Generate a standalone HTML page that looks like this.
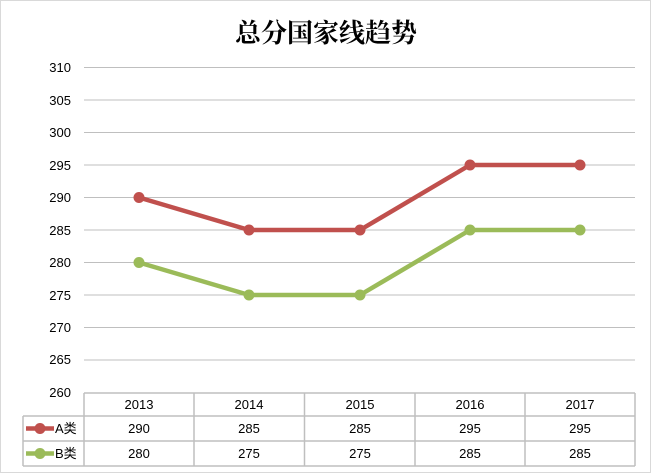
<!DOCTYPE html>
<html><head><meta charset="utf-8"><style>
html,body{margin:0;padding:0;background:#fff}
svg{display:block}
text{font-family:"Liberation Sans","Noto Sans CJK SC",sans-serif;font-size:13px;fill:#000}
</style></head><body>
<svg width="651" height="474" viewBox="0 0 651 474">
<rect x="0.5" y="0.5" width="650" height="472" fill="#fff" stroke="#d9d9d9"/>
<text x="326" y="42" text-anchor="middle" style="font-size:26px;font-weight:bold;font-family:'Noto Serif CJK SC','Noto Sans CJK SC',serif">总分国家线趋势</text>
<g stroke="#bfbfbf" stroke-width="1">
<line x1="84" x2="635" y1="67.5" y2="67.5"/><line x1="84" x2="635" y1="100" y2="100"/>
<line x1="84" x2="635" y1="132.5" y2="132.5"/><line x1="84" x2="635" y1="165" y2="165"/>
<line x1="84" x2="635" y1="197.5" y2="197.5"/><line x1="84" x2="635" y1="230" y2="230"/>
<line x1="84" x2="635" y1="262.5" y2="262.5"/><line x1="84" x2="635" y1="295" y2="295"/>
<line x1="84" x2="635" y1="327.5" y2="327.5"/><line x1="84" x2="635" y1="360" y2="360"/>
</g>
<g text-anchor="end">
<text x="71" y="72">310</text><text x="71" y="105">305</text><text x="71" y="137">300</text>
<text x="71" y="170">295</text><text x="71" y="202">290</text><text x="71" y="235">285</text>
<text x="71" y="267">280</text><text x="71" y="300">275</text><text x="71" y="332">270</text>
<text x="71" y="364">265</text><text x="71" y="397">260</text>
</g>
<g stroke="#bfbfbf" stroke-width="1.5" fill="none">
<line x1="84" x2="635" y1="393" y2="393"/>
<line x1="23" x2="635" y1="416" y2="416"/>
<line x1="23" x2="635" y1="441" y2="441"/>
<line x1="23" x2="635" y1="466" y2="466"/>
<line x1="23" x2="23" y1="416" y2="466"/>
<line x1="84" x2="84" y1="393" y2="466"/>
<line x1="194" x2="194" y1="393" y2="466"/>
<line x1="304.5" x2="304.5" y1="393" y2="466"/>
<line x1="415" x2="415" y1="393" y2="466"/>
<line x1="525" x2="525" y1="393" y2="466"/>
<line x1="635" x2="635" y1="393" y2="466"/>
</g>
<g text-anchor="middle">
<text x="139" y="409">2013</text><text x="249" y="409">2014</text><text x="360" y="409">2015</text><text x="470" y="409">2016</text><text x="580" y="409">2017</text>
<text x="139" y="433">290</text><text x="249" y="433">285</text><text x="360" y="433">285</text><text x="470" y="433">295</text><text x="580" y="433">295</text>
<text x="139" y="458">280</text><text x="249" y="458">275</text><text x="360" y="458">275</text><text x="470" y="458">285</text><text x="580" y="458">285</text>
</g>
<polyline points="139,197.5 249,230 360,230 470,165 580,165" fill="none" stroke="#c0504d" stroke-width="4.5" stroke-linejoin="round"/>
<polyline points="139,262.5 249,295 360,295 470,230 580,230" fill="none" stroke="#9bbb59" stroke-width="4.5" stroke-linejoin="round"/>
<g fill="#c0504d"><circle cx="139" cy="197.5" r="5.5"/><circle cx="249" cy="230" r="5.5"/><circle cx="360" cy="230" r="5.5"/><circle cx="470" cy="165" r="5.5"/><circle cx="580" cy="165" r="5.5"/></g>
<g fill="#9bbb59"><circle cx="139" cy="262.5" r="5.5"/><circle cx="249" cy="295" r="5.5"/><circle cx="360" cy="295" r="5.5"/><circle cx="470" cy="230" r="5.5"/><circle cx="580" cy="230" r="5.5"/></g>
<line x1="26" x2="54" y1="428.5" y2="428.5" stroke="#c0504d" stroke-width="4.5"/><circle cx="40" cy="428.5" r="5.5" fill="#c0504d"/>
<line x1="26" x2="54" y1="453.5" y2="453.5" stroke="#9bbb59" stroke-width="4.5"/><circle cx="40" cy="453.5" r="5.5" fill="#9bbb59"/>
<text x="55" y="433">A类</text><text x="55" y="458">B类</text>
</svg>
</body></html>
